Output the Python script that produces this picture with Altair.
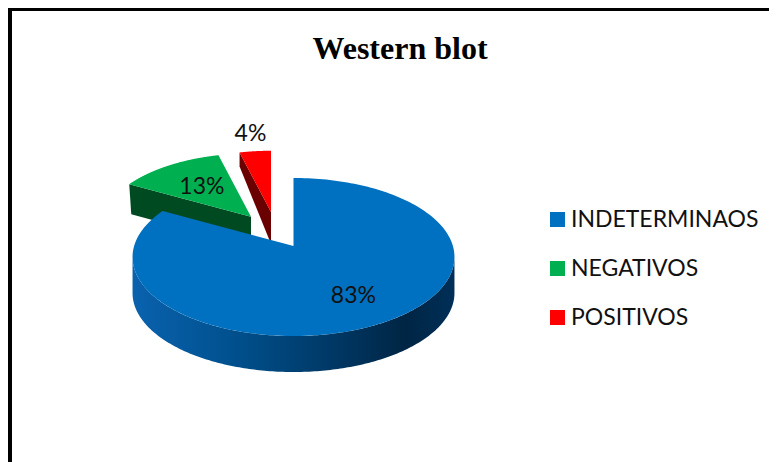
import math
import altair as alt
import pandas as pd

categories = ["INDETERMINAOS", "NEGATIVOS", "POSITIVOS"]
shares = [83, 13, 4]
colors = ["#0070C0", "#00B050", "#FF0000"]
chart_title = "Western blot"

W, H = 761, 454
A, B, K = 159.4, 77.5, 0.139
APEX = {"INDETERMINAOS": (285.5, 238), "NEGATIVOS": (243, 208.7), "POSITIVOS": (263, 204)}
SCALE = {"INDETERMINAOS": 1.0, "NEGATIVOS": 0.93, "POSITIVOS": 0.9}
LABEL_R = {"INDETERMINAOS": 0.65, "NEGATIVOS": 0.6, "POSITIVOS": 1.3}


def project(cat, deg, r=1.0):
    t = math.radians(deg)
    u, v = math.sin(t), math.cos(t)
    d = 1 + K * v
    ax, ay = APEX[cat]
    s = SCALE[cat] * r
    return ax + s * A * u / d, ay - s * B * v / d


spans, start = {}, 0.0
for c, s in zip(categories, shares):
    spans[c] = (start, start + s * 3.6)
    start += s * 3.6

top_rows = []
for c in categories:
    a0, a1 = spans[c]
    pts = [project(c, a0 + (a1 - a0) * i / 200) for i in range(201)]
    pts = [APEX[c]] + pts + [APEX[c]]
    top_rows += [{"cat": c, "i": i, "x": p[0], "y": p[1]} for i, p in enumerate(pts)]
top_df = pd.DataFrame(top_rows)


def polygon(points):
    return pd.DataFrame([{"i": i, "x": p[0], "y": p[1]} for i, p in enumerate(points)])


# outer rim of the large slice
rim = [project("INDETERMINAOS", 98 + 164 * i / 200) for i in range(201)]
blue_wall = polygon(rim + [(x, y + 36) for x, y in reversed(rim)])

# cut faces of the two pulled-out slices
g_far = project("NEGATIVOS", spans["NEGATIVOS"][0])
g_apex = APEX["NEGATIVOS"]
green_wall = polygon([g_far, g_apex, (g_apex[0], g_apex[1] + 30), (g_far[0] + 2, g_far[1] + 30)])
r_far = project("POSITIVOS", spans["POSITIVOS"][0])
r_apex = APEX["POSITIVOS"]
red_wall = polygon([r_far, r_apex, (r_apex[0], r_apex[1] + 32), (r_far[0], r_far[1] + 14)])

label_rows = []
for c, s in zip(categories, shares):
    a0, a1 = spans[c]
    x, y = project(c, (a0 + a1) / 2, LABEL_R[c])
    label_rows.append({"x": x, "y": y, "label": f"{s}%"})
labels = pd.DataFrame(label_rows)

X = alt.X("x:Q", scale=alt.Scale(domain=[0, W]), axis=None)
Y = alt.Y("y:Q", scale=alt.Scale(domain=[0, H], reverse=True), axis=None)
ORDER = alt.Order("i:Q")


def wall(df, fill):
    return alt.Chart(df).mark_line(fill=fill, strokeWidth=0, interpolate="linear-closed").encode(
        x=X, y=Y, order=ORDER
    )


blue_gradient = alt.Gradient(
    gradient="linear", x1=0, y1=0, x2=1, y2=0,
    stops=[
        alt.GradientStop(color="#0A62AE", offset=0),
        alt.GradientStop(color="#00518F", offset=0.3),
        alt.GradientStop(color="#003A68", offset=0.6),
        alt.GradientStop(color="#002544", offset=0.85),
        alt.GradientStop(color="#002F58", offset=1),
    ],
)

tops = alt.Chart(top_df).mark_line(strokeWidth=0, filled=True).encode(
    x=X, y=Y, order=ORDER,
    fill=alt.Fill(
        "cat:N",
        scale=alt.Scale(domain=categories, range=colors),
        legend=alt.Legend(
            title=None, orient="none", legendX=538, legendY=200,
            symbolType="square", symbolSize=225, symbolStrokeWidth=0,
            labelFont="Lato", labelFontSize=23, labelColor="#111111",
            rowPadding=25, labelOffset=2, labelLimit=300,
        ),
    ),
)

pct = alt.Chart(labels).mark_text(font="Lato", fontSize=23, color="#111111", dy=1).encode(
    x=X, y=Y, text="label:N"
)

frame_left = alt.Chart(pd.DataFrame({"a": [0]})).mark_rule(color="black", strokeWidth=4).encode(
    x=alt.value(2), y=alt.value(0), y2=alt.value(H)
)
frame_top = alt.Chart(pd.DataFrame({"a": [0]})).mark_rule(color="black", strokeWidth=3).encode(
    y=alt.value(1.5), x=alt.value(0), x2=alt.value(W)
)
title = alt.Chart(pd.DataFrame({"t": [chart_title]})).mark_text(
    font="Liberation Serif", fontWeight="bold", fontSize=32, color="black"
).encode(x=alt.value(392), y=alt.value(41), text="t:N")

chart = alt.layer(
    frame_left, frame_top, title,
    wall(green_wall, "#004A22"), wall(red_wall, "#6B0000"), wall(blue_wall, blue_gradient),
    tops, pct,
).properties(width=W, height=H, padding=0, autosize=alt.AutoSizeParams(type="none")).configure_view(stroke=None)

chart.save("out.html", embed_options={"renderer": "svg", "actions": False})
